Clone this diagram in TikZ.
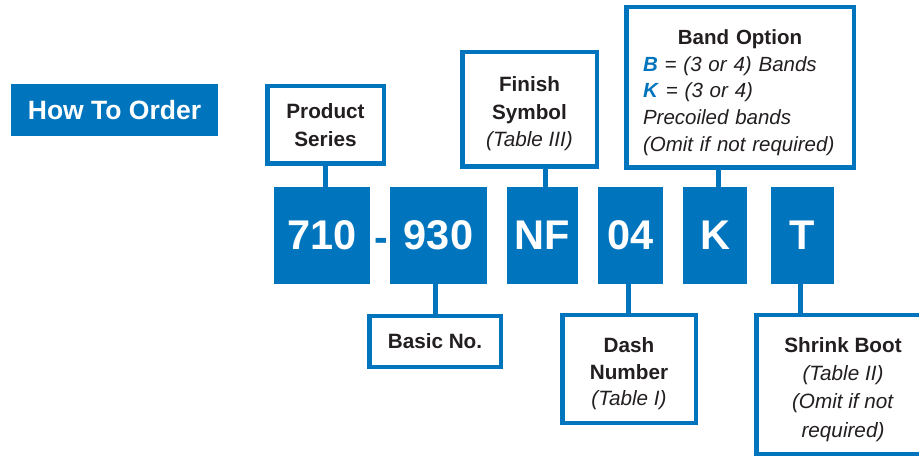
\documentclass[tikz,border=0pt]{standalone}
\usepackage{fontspec}
\setmainfont{Liberation Sans}
\definecolor{hblue}{RGB}{0,117,190}
\definecolor{htext}{RGB}{35,31,32}
\begin{document}
\begin{tikzpicture}[x=1pt,y=-1pt,
  numbox/.style={fill=hblue, text=white, inner sep=0pt, minimum height=97pt,
    font=\fontsize{41.5}{41.5}\selectfont\bfseries},
  lblbox/.style={draw=hblue, line width=4.5pt, fill=white, text=htext,
    align=center, inner sep=0pt, font=\fontsize{20.7}{27.5}\selectfont},
  conn/.style={draw=hblue, line width=5pt}]
\useasboundingbox (0,0) rectangle (919,457);
% title
\node[fill=hblue, text=white, inner sep=0pt, minimum width=207pt, minimum height=52pt,
  font=\fontsize{26.5}{26.5}\selectfont\bfseries] (title) at (114.5,110.5) {How To Order};
% code boxes
\node[numbox, minimum width=96pt] (n710) at (322,235.5) {710};
\node[numbox, minimum width=97pt] (n930) at (438.5,235.5) {930};
\node[numbox, minimum width=71pt] (nNF) at (542.5,235.5) {NF};
\node[numbox, minimum width=65pt] (n04) at (630.5,235.5) {04};
\node[numbox, minimum width=64pt] (nK) at (715,235.5) {K};
\node[numbox, minimum width=63pt] (nT) at (802.5,235.5) {T};
\node[anchor=base, text=hblue, inner sep=0pt, font=\fontsize{41}{41}\selectfont\bfseries] (dash) at (381,252) {-};
% connectors
\draw[conn] (325.5,166) coordinate (c1) -- (c1 |- n710.north);
\draw[conn] ([xshift=2.5pt]nNF.north) -- ([xshift=2.5pt]nNF.north |- 0,169);
\draw[conn] ([xshift=3pt]nK.north) -- ([xshift=3pt]nK.north |- 0,170);
\draw[conn] (435,284) coordinate (c4) -- (c4 |- 0,314);
\draw[conn] (628,284) coordinate (c5) -- (c5 |- 0,313);
\draw[conn] ([xshift=-2.5pt]nT.south) -- ([xshift=-2.5pt]nT.south |- 0,313);
% label boxes
\node[lblbox, minimum width=116.5pt, minimum height=77.5pt] (ps) at (325.5,125)
  {\textbf{Product}\\\textbf{Series}};
\node[lblbox, minimum width=134.5pt, minimum height=114.5pt] (fs) at (529.5,109.5)
  {\rule{0pt}{24pt}\textbf{Finish}\\\textbf{Symbol}\\\textit{(Table III)}};
\node[lblbox, minimum width=227.5pt, minimum height=160.5pt, text width=194pt, align=left,
  font=\fontsize{20.5}{26.8}\selectfont] (bo) at (740,87.5)
  {{\centering\rule{0pt}{25pt}\textbf{Band Option}\par}\textcolor{hblue}{\textbf{\textit{B}}}\textit{ = (3 or 4) Bands}\\
   \textcolor{hblue}{\textbf{\textit{K}}}\textit{ = (3 or 4)}\\
   \textit{Precoiled bands}\\
   \textit{(Omit if not required)}};
\node[lblbox, minimum width=131.5pt, minimum height=50.5pt] (bn) at (435,341.5)
  {\textbf{Basic No.}};
\node[lblbox, minimum width=133.5pt, minimum height=107.5pt, font=\fontsize{20.7}{26.5}\selectfont] (dn) at (629,369)
  {\rule{0pt}{24.7pt}\textbf{Dash}\\\textbf{Number}\\\textit{(Table I)}};
\node[lblbox, minimum width=173.5pt, minimum height=138.5pt, font=\fontsize{20.7}{28.3}\selectfont] (sb) at (843,384.5)
  {\rule{0pt}{24.7pt}\textbf{Shrink Boot}\\\textit{(Table II)}\\\textit{(Omit if not}\\\textit{required)}};
\end{tikzpicture}
\end{document}
